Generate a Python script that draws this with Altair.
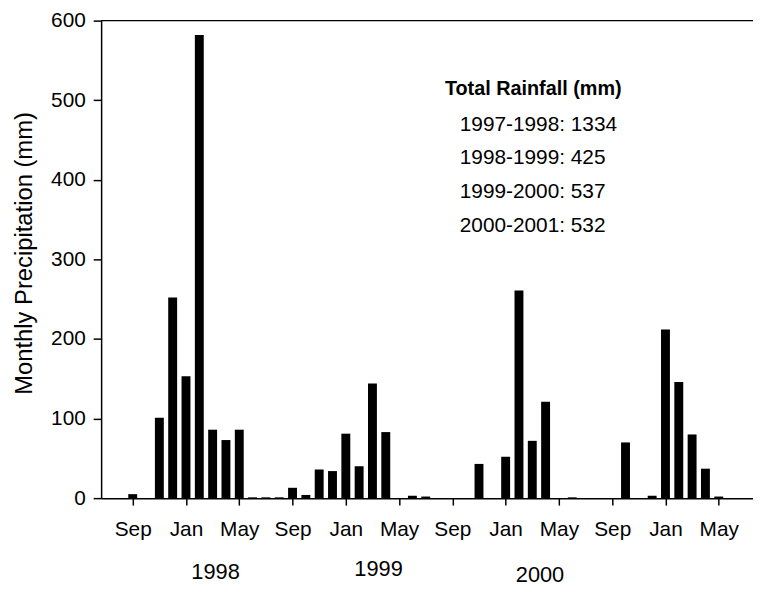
import json
import altair as alt
import pandas as pd

# Monthly precipitation, Sep 1997 .. Jun 2001 (mm)
months = ["Sep97", "Oct97", "Nov97", "Dec97", "Jan98", "Feb98", "Mar98", "Apr98",
          "May98", "Jun98", "Jul98", "Aug98", "Sep98", "Oct98", "Nov98", "Dec98",
          "Jan99", "Feb99", "Mar99", "Apr99", "May99", "Jun99", "Jul99", "Aug99",
          "Sep99", "Oct99", "Nov99", "Dec99", "Jan00", "Feb00", "Mar00", "Apr00",
          "May00", "Jun00", "Jul00", "Aug00", "Sep00", "Oct00", "Nov00", "Dec00",
          "Jan01", "Feb01", "Mar01", "Apr01", "May01", "Jun01"]
precip = [5, 0, 101, 252, 153, 582, 86, 73,
          86, 1, 1, 1, 13, 4, 36, 34,
          81, 40, 144, 83, 0, 3, 2, 0,
          0, 0, 43, 0, 52, 261, 72, 121,
          0, 1, 0, 0, 0, 70, 0, 3,
          212, 146, 80, 37, 2, 0]

tick_idx = [0, 4, 8, 12, 16, 20, 24, 28, 32, 36, 40, 44]
tick_labels = ["Sep", "Jan", "May", "Sep", "Jan", "May",
               "Sep", "Jan", "May", "Sep", "Jan", "May"]
y_ticks = [0, 100, 200, 300, 400, 500, 600]

year_labels = ["1998", "1999", "2000"]
legend_title = "Total Rainfall (mm)"
legend_lines = ["1997-1998: 1334", "1998-1999: 425", "1999-2000: 537", "2000-2001: 532"]

df = pd.DataFrame({"idx": list(range(len(precip))), "month": months, "precip": precip})

FONT = "Liberation Sans"

label_expr = json.dumps(tick_labels) + "[round(datum.value / 4)]"

bars = alt.Chart(df).mark_bar(color="black", width=9).encode(
    x=alt.X("idx:Q",
            scale=alt.Scale(domain=[-2, 46.2], nice=False, zero=False),
            axis=alt.Axis(values=tick_idx, labelExpr=label_expr, title=None, grid=False,
                          tickSize=7, labelPadding=14, labelFontSize=21,
                          labelFlush=False, labelOverlap=False)),
    y=alt.Y("precip:Q",
            scale=alt.Scale(domain=[0, 600], nice=False),
            axis=alt.Axis(values=y_ticks, title="Monthly Precipitation (mm)", grid=False,
                          tickSize=8, labelPadding=8, labelFontSize=21,
                          titleFontSize=24, titleFontWeight="normal",
                          titleX=-70, titleY=234.5, titleAngle=270,
                          titleAlign="center", titleBaseline="alphabetic")),
)

top_rule = alt.Chart(pd.DataFrame({"v": [600]})).mark_rule(
    color="black", strokeWidth=1.5).encode(y="v:Q")

layers = [bars, top_rule]

# legend-like annotation block
layers.append(
    alt.Chart(pd.DataFrame({"t": [legend_title]})).mark_text(
        font=FONT, fontSize=20, fontWeight="bold", align="left",
        baseline="alphabetic", color="black").encode(
        text="t:N", x=alt.value(347), y=alt.value(75))
)
for line, yy in zip(legend_lines, [111, 145, 179.5, 213.7]):
    layers.append(
        alt.Chart(pd.DataFrame({"t": [line]})).mark_text(
            font=FONT, fontSize=21, align="left", baseline="alphabetic",
            color="black").encode(text="t:N", x=alt.value(362), y=alt.value(yy))
    )

for yr, xx, yy in zip(year_labels, [115.5, 280, 443], [563.7, 560.3, 566.5]):
    layers.append(
        alt.Chart(pd.DataFrame({"t": [yr]})).mark_text(
            font=FONT, fontSize=22, align="center", baseline="alphabetic",
            color="black").encode(text="t:N", x=alt.value(xx), y=alt.value(yy))
    )

chart = alt.layer(*layers).properties(
    width=658, height=482,
    padding={"left": 94, "top": 10, "right": 0, "bottom": 92},
    autosize=alt.AutoSizeParams(type="none"),
    background="white",
).configure_view(stroke=None).configure_axis(
    domainColor="black", domainWidth=1.5, tickColor="black", tickWidth=1.5,
    labelColor="black", titleColor="black", labelFont=FONT, titleFont=FONT,
)

chart.save("out.html", embed_options={"renderer": "svg", "actions": False})
